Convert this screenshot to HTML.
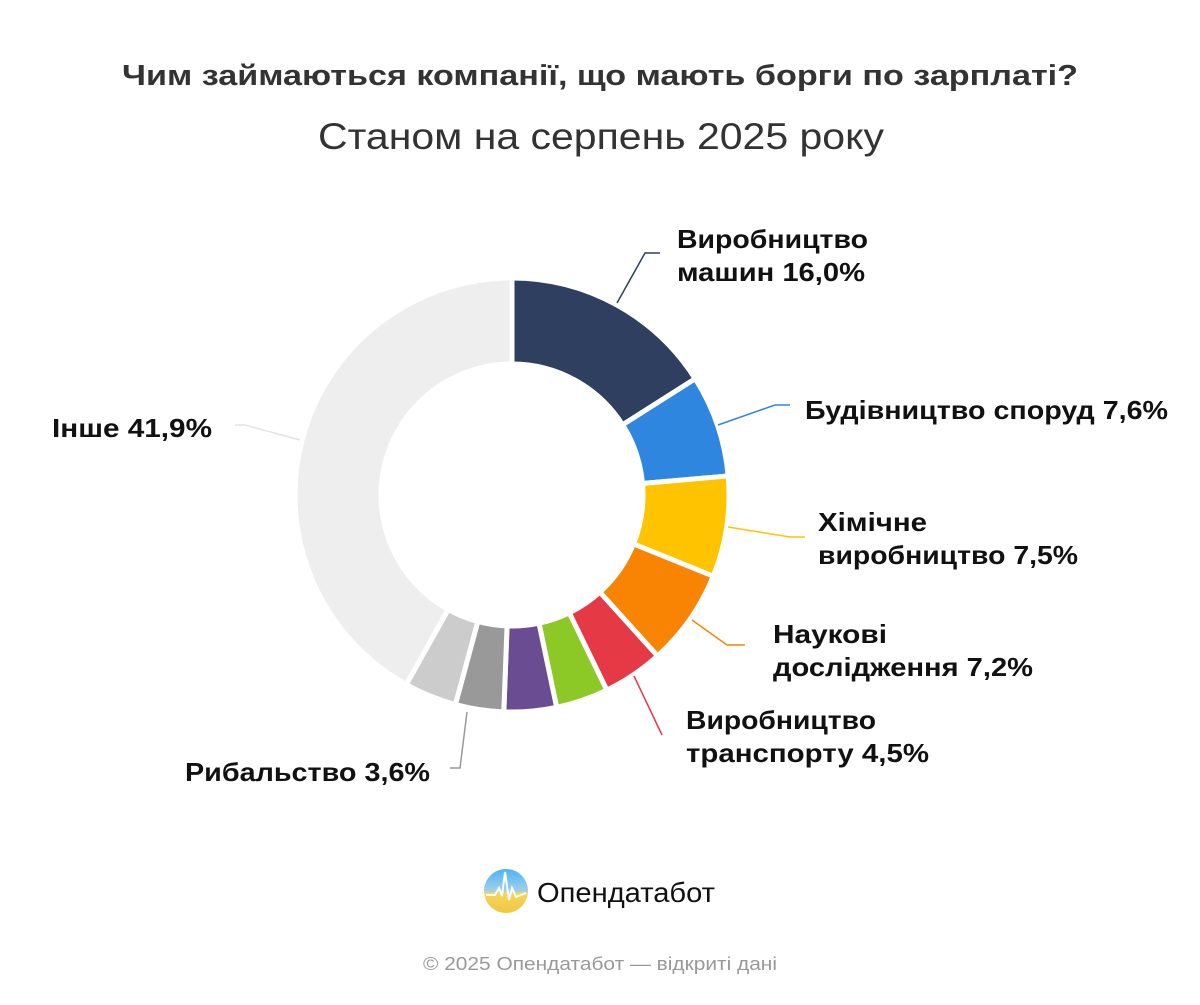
<!DOCTYPE html>
<html><head><meta charset="utf-8"><style>
body{margin:0;background:#fff;width:1200px;height:1000px;overflow:hidden;font-family:"Liberation Sans","DejaVu Sans",sans-serif;}
</style></head><body>
<svg width="1200" height="1000" viewBox="0 0 1200 1000" xmlns="http://www.w3.org/2000/svg">
<defs>
<linearGradient id="lg" x1="0" y1="0" x2="0" y2="1"><stop offset="0" stop-color="#4fb3f5"/><stop offset="0.5" stop-color="#9fd0e8"/><stop offset="0.55" stop-color="#f5d65a"/><stop offset="1" stop-color="#f2c640"/></linearGradient>
</defs>
<text x="122" y="85" font-size="29" font-weight="bold" fill="#333" textLength="956" lengthAdjust="spacingAndGlyphs">Чим займаються компанії, що мають борги по зарплаті?</text>
<text x="318" y="149" font-size="37" fill="#333" textLength="566" lengthAdjust="spacingAndGlyphs">Станом на серпень 2025 року</text>
<g id="donut"></g>
<g fill="none" stroke-width="1.5">
<polyline points="617,303 645,253 660,253" stroke="#2e3f5f"/>
<polyline points="718,425 775,405 790,405" stroke="#2e86de"/>
<polyline points="728,527 790,537 805,537" stroke="#ffc300"/>
<polyline points="692,620 727,645 745,645" stroke="#f98404"/>
<polyline points="634,676 662,735" stroke="#e63946"/>
<polyline points="467,712 460,768 450,768" stroke="#999"/>
<polyline points="300,440 245,425 235,425" stroke="#e4e4e4"/>
</g>
<g font-size="26" font-weight="bold" fill="#111" lengthAdjust="spacingAndGlyphs">
<text x="677" y="248" textLength="191" lengthAdjust="spacingAndGlyphs">Виробництво</text><text x="677" y="281" textLength="188" lengthAdjust="spacingAndGlyphs">машин 16,0%</text>
<text x="805" y="419" textLength="363" lengthAdjust="spacingAndGlyphs">Будівництво споруд 7,6%</text>
<text x="818" y="531" textLength="109" lengthAdjust="spacingAndGlyphs">Хімічне</text><text x="818" y="564" textLength="260" lengthAdjust="spacingAndGlyphs">виробництво 7,5%</text>
<text x="773" y="643" textLength="114" lengthAdjust="spacingAndGlyphs">Наукові</text><text x="773" y="676" textLength="260" lengthAdjust="spacingAndGlyphs">дослідження 7,2%</text>
<text x="686" y="729" textLength="190" lengthAdjust="spacingAndGlyphs">Виробництво</text><text x="686" y="762" textLength="243" lengthAdjust="spacingAndGlyphs">транспорту 4,5%</text>
<text x="185" y="781" textLength="245" lengthAdjust="spacingAndGlyphs">Рибальство 3,6%</text>
<text x="52" y="437" textLength="160" lengthAdjust="spacingAndGlyphs">Інше 41,9%</text>
</g>
<circle cx="506" cy="891" r="22" fill="url(#lg)"/>
<polyline points="486,895 495,895 499,888 502,896 505,872 509,900 512,888 516,897 526,893" fill="none" stroke="#fff" stroke-width="2"/>
<text x="537" y="902" font-size="28" fill="#111" textLength="178" lengthAdjust="spacingAndGlyphs">Опендатабот</text>
<text x="423" y="970" font-size="18" fill="#999" textLength="354" lengthAdjust="spacingAndGlyphs">© 2025 Опендатабот — відкриті дані</text>
</svg>
<script>
var cx=512,cy=495,R=217,r=131;
var d=[[16.0,"#2e3f5f"],[7.6,"#2e86de"],[7.5,"#ffc300"],[7.2,"#f98404"],[4.5,"#e63946"],[3.9,"#8cc826"],[3.9,"#6a4c93"],[3.6,"#999999"],[3.9,"#cccccc"],[41.9,"#eeeeee"]];
var g=document.getElementById("donut"),a=0,s="";
function p(rad,ang){var t=ang*Math.PI/180;return (cx+rad*Math.sin(t)).toFixed(2)+","+(cy-rad*Math.cos(t)).toFixed(2);}
d.forEach(function(x){var b=a+x[0]*3.6,l=(b-a)>180?1:0;
s+='<path d="M'+p(R,a)+' A'+R+','+R+' 0 '+l+' 1 '+p(R,b)+' L'+p(r,b)+' A'+r+','+r+' 0 '+l+' 0 '+p(r,a)+' Z" fill="'+x[1]+'" stroke="#fff" stroke-width="5" stroke-linejoin="round"/>';a=b;});
g.innerHTML=s;
</script>
</body></html>
